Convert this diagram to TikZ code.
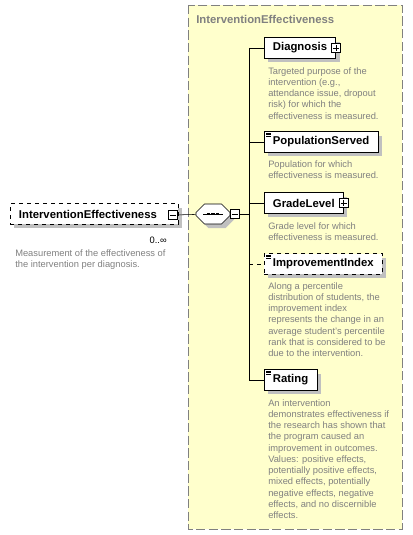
\documentclass[tikz,border=0pt]{standalone}
\usepackage{fontspec}
\setmainfont{Liberation Sans}
\usetikzlibrary{calc,shapes.misc,shadows}
\definecolor{grpyellow}{RGB}{255,255,204}
\definecolor{docgray}{RGB}{128,128,128}
\definecolor{shadowgray}{RGB}{192,192,192}
\newcommand{\lbl}{\fontsize{8.5}{10}\selectfont\bfseries}
\newcommand{\doc}{\fontsize{7}{8.45}\selectfont}
\newcommand{\simpleicon}[1]{\foreach \k in {0,1,2} \draw[line width=0.5pt] ([xshift=1.5pt,yshift=-1.2pt-\k*1.1pt]#1.north west) -- ++(3.5pt,0);}
\tikzset{
  elem/.style={draw, fill=white, anchor=west, minimum height=15.5pt, inner xsep=6.5pt, inner ysep=0pt, font=\lbl,
    general shadow={fill=shadowgray, shadow xshift=3pt, shadow yshift=-3pt}},
  optelem/.style={elem, dashed},
  doctext/.style={anchor=north west, align=left, inner sep=0pt, text=docgray, font=\doc},
  pmbox/.style={draw, fill=white, minimum size=7pt, inner sep=0pt},
  plusbox/.style={pmbox, path picture={
    \draw ([xshift=1.3pt]path picture bounding box.west) -- ([xshift=-1.3pt]path picture bounding box.east);
    \draw ([yshift=-1.3pt]path picture bounding box.north) -- ([yshift=1.3pt]path picture bounding box.south);}},
  minusbox/.style={pmbox, path picture={
    \draw ([xshift=1.3pt]path picture bounding box.west) -- ([xshift=-1.3pt]path picture bounding box.east);}},
  seqbox/.style={chamfered rectangle, chamfered rectangle xsep=3pt, draw, fill=white, minimum width=25.5pt, minimum height=15pt,
    general shadow={fill=shadowgray, shadow xshift=3pt, shadow yshift=-3pt}}
}
\begin{document}
\begin{tikzpicture}[x=0.75pt,y=-0.75pt]
  \useasboundingbox (0,0) rectangle (413,535);
  \draw[fill=grpyellow, draw=docgray, dash pattern=on 7pt off 2.5pt] (188,5) rectangle (402,529);
  \node[anchor=west, text=docgray, font=\lbl, inner sep=0pt] (grptitle) at (196,19) {InterventionEffectiveness};

  \node[elem, dashed, text width=113pt] (root) at (10,214) {InterventionEffectiveness};
  \node[minusbox] (rootpm) at (173,215) {};
  \node[font=\doc, anchor=east, inner sep=0pt] (occ) at (167,240) {0..∞};
  \node[doctext] (rootdoc) at (15,249) {Measurement of the effectiveness of\\the intervention per diagnosis.};

  \node[seqbox] (seq) at (213,214) {};
  \draw (seq.center) ++(-7.5pt,0) -- ++(15pt,0);
  \foreach \d in {-3.2,0,3.2}
    \fill ([xshift=\d pt]seq.center) +(-1.3pt,-1pt) rectangle +(1.3pt,1pt);
  \node[minusbox] (seqpm) at (235,214) {};
  \coordinate (trunk) at (249,214);

  \node[elem] (diag) at (264,48) {Diagnosis};
  \node[plusbox] (diagpm) at (diag.east) {};
  \node[doctext] (diagdoc) at (268,67) {Targeted purpose of the\\intervention (e.g.,\\attendance issue, dropout\\risk) for which the\\effectiveness is measured.};

  \node[elem] (pop) at (264,142) {PopulationServed};
  \simpleicon{pop}
  \node[doctext] (popdoc) at (268,160) {Population for which\\effectiveness is measured.};

  \node[elem] (grade) at (264,203) {GradeLevel};
  \node[plusbox] (gradepm) at (grade.east) {};
  \node[doctext] (gradedoc) at (268,222) {Grade level for which\\effectiveness is measured.};

  \node[optelem] (impr) at (264,264) {ImprovementIndex};
  \simpleicon{impr}
  \node[doctext] (imprdoc) at (268,282) {Along a percentile\\distribution of students, the\\improvement index\\represents the change in an\\average student’s percentile\\rank that is considered to be\\due to the intervention.};

  \node[elem] (rate) at (264,380) {Rating};
  \simpleicon{rate}
  \node[doctext] (ratedoc) at (268,399) {An intervention\\demonstrates effectiveness if\\the research has shown that\\the program caused an\\improvement in outcomes.\\Values: positive effects,\\potentially positive effects,\\mixed effects, potentially\\negative effects, negative\\effects, and no discernible\\effects.};

  \draw (rootpm) -- (seq);
  \draw (seqpm) -- (trunk);
  \draw (trunk |- diag.west) -- (trunk |- rate.west) -- (rate.west);
  \draw (trunk |- diag.west) -- (diag);
  \draw (trunk |- pop.west) -- (pop);
  \draw (trunk |- grade.west) -- (grade);
  \draw[dashed] (trunk |- impr.west) -- (impr);
\end{tikzpicture}
\end{document}
